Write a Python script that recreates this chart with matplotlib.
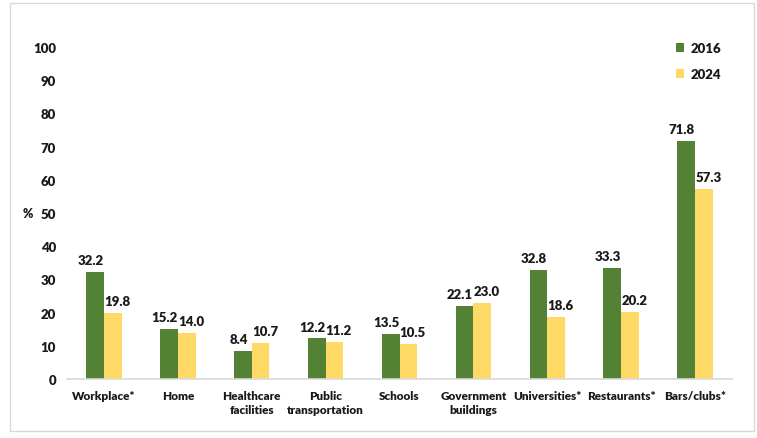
import numpy as np
import matplotlib.pyplot as plt
from matplotlib.patches import Rectangle

# Share of respondents exposed, by setting
places = ["Workplace*", "Home", "Healthcare\nfacilities", "Public\ntransportation",
          "Schools", "Government\nbuildings", "Universities*", "Restaurants*", "Bars/clubs*"]
vals_2016 = [32.2, 15.2, 8.4, 12.2, 13.5, 22.1, 32.8, 33.3, 71.8]
vals_2024 = [19.8, 14.0, 10.7, 11.2, 10.5, 23.0, 18.6, 20.2, 57.3]
years = ["2016", "2024"]
yticks = [0, 10, 20, 30, 40, 50, 60, 70, 80, 90, 100]

green = "#548235"
yellow = "#FFD966"
ink = "#1a1a1a"

plt.rcParams["font.family"] = ["Lato", "DejaVu Sans"]
plt.rcParams["font.weight"] = "heavy"

fig = plt.figure(figsize=(7.57, 4.39), dpi=100)
ax = fig.add_axes([67 / 757, 1 - 380 / 439, 665 / 757, 332 / 439])

x = np.arange(len(places))
w = 0.24
b1 = ax.bar(x - w / 2, vals_2016, w, color=green, label=years[0])
b2 = ax.bar(x + w / 2, vals_2024, w, color=yellow, label=years[1])

# value labels, nudged apart so neighbours don't collide
for bars, vals, nudge in ((b1, vals_2016, -0.06), (b2, vals_2024, 0.06)):
    for r, v in zip(bars, vals):
        ax.text(r.get_x() + r.get_width() / 2 + nudge, v + 1.8, f"{v:.1f}",
                ha="center", va="bottom", fontsize=9.5, fontweight="heavy",
                color=ink)

ax.set_xlim(-0.5, len(places) - 0.5)
ax.set_ylim(0, 100)
ax.set_yticks(yticks)
ax.set_xticks(x)
ax.set_xticklabels(places, fontsize=8.5, fontweight="heavy", color=ink,
                   linespacing=1.3)
ax.tick_params(axis="y", length=0, pad=8, labelsize=9.5, labelcolor=ink)
ax.tick_params(axis="x", length=0, pad=8)
for s in ["top", "right", "left"]:
    ax.spines[s].set_visible(False)
ax.spines["bottom"].set_color("#D9D9D9")
ax.spines["bottom"].set_linewidth(1.2)

ax.text(-0.059, 0.5, "%", transform=ax.transAxes, fontsize=9,
        fontweight="heavy", ha="center", va="center", color=ink)

leg = ax.legend(loc="upper left", bbox_to_anchor=(0.898, 1.05), frameon=False,
                handlelength=0.6, handleheight=0.6, handletextpad=0.5,
                labelspacing=1.05, prop={"size": 9.5, "weight": "heavy"})
for t in leg.get_texts():
    t.set_color(ink)

# light frame around the whole chart
fig.patches.append(Rectangle((10 / 757, 1 - 432 / 439), 744 / 757, 428 / 439,
                             transform=fig.transFigure, fill=False,
                             edgecolor="#D9D9D9", linewidth=1))

fig.savefig("out.png", dpi=100)
